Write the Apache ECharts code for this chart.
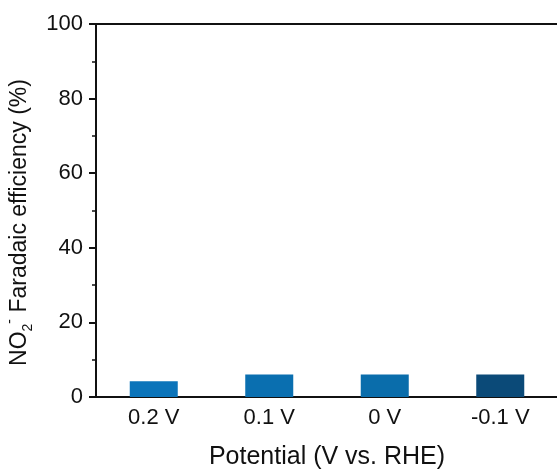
<!DOCTYPE html>
<html>
<head>
<meta charset="utf-8">
<style>
  html, body { margin: 0; padding: 0; background: #fff; }
  #chart { width: 557px; height: 471px; }
</style>
<script src="https://cdn.jsdelivr.net/npm/echarts@6/dist/echarts.min.js"></script>
</head>
<body>
<div id="chart"></div>
<script>
// Applied potentials and the NO2- Faradaic efficiency at each one
const potentials = ['0.2 V', '0.1 V', '0 V', '-0.1 V'];
const faradaicEfficiency = [4.2, 6.0, 6.0, 6.0];
const barColors = ['#0b74ba', '#0a6fb0', '#0a6dab', '#0b4a78'];
const yTicks = [0, 20, 40, 60, 80, 100];

const font = 'Liberation Sans, Arial, sans-serif';
const ink = '#111';
const chart = echarts.init(document.getElementById('chart'), null, { renderer: 'canvas' });

chart.setOption({
  animation: false,
  backgroundColor: '#fff',
  grid: { left: 96, top: 24, right: -1, bottom: 74, outerBoundsMode: 'none', containLabel: false },
  xAxis: [{
    type: 'category',
    data: potentials,
    name: 'Potential (V vs. RHE)',
    nameLocation: 'middle',
    nameGap: 48,
    nameTextStyle: { fontFamily: font, fontSize: 25, color: ink },
    axisLine: { lineStyle: { color: ink, width: 2 } },
    axisTick: { alignWithLabel: true, length: 7, lineStyle: { color: ink, width: 2 } },
    axisLabel: { fontFamily: font, fontSize: 22, color: ink, margin: 10 }
  }, {
    type: 'category',
    position: 'top',
    data: potentials,
    axisLine: { onZero: false, lineStyle: { color: ink, width: 2 } },
    axisTick: { show: false },
    axisLabel: { show: false }
  }],
  yAxis: {
    type: 'value',
    min: yTicks[0],
    max: yTicks[yTicks.length - 1],
    interval: 20,
    name: '{n|NO}{s|2}{p|-}{n| Faradaic efficiency (%)}',
    nameLocation: 'middle',
    nameRotate: 90,
    nameGap: 51,
    nameTextStyle: {
      fontFamily: font, fontSize: 23, color: ink,
      padding: [0, 24, 0, 0],
      rich: {
        n: { fontFamily: font, fontSize: 23, color: ink, lineHeight: 32, verticalAlign: 'middle' },
        s: { fontFamily: font, fontSize: 14, color: ink, verticalAlign: 'bottom', lineHeight: 14 },
        p: { fontFamily: font, fontSize: 14, color: ink, verticalAlign: 'top', lineHeight: 14 }
      }
    },
    splitLine: { show: false },
    axisLine: { show: true, lineStyle: { color: ink, width: 2 } },
    axisTick: { show: true, length: 7, lineStyle: { color: ink, width: 2 } },
    minorTick: { show: true, splitNumber: 2, length: 4, lineStyle: { color: ink, width: 1.5 } },
    axisLabel: { fontFamily: font, fontSize: 22, color: ink, margin: 13 }
  },
  series: [{
    type: 'bar',
    data: faradaicEfficiency.map((v, i) => ({ value: v, itemStyle: { color: barColors[i] } })),
    barWidth: 48
  }]
});
</script>
</body>
</html>
